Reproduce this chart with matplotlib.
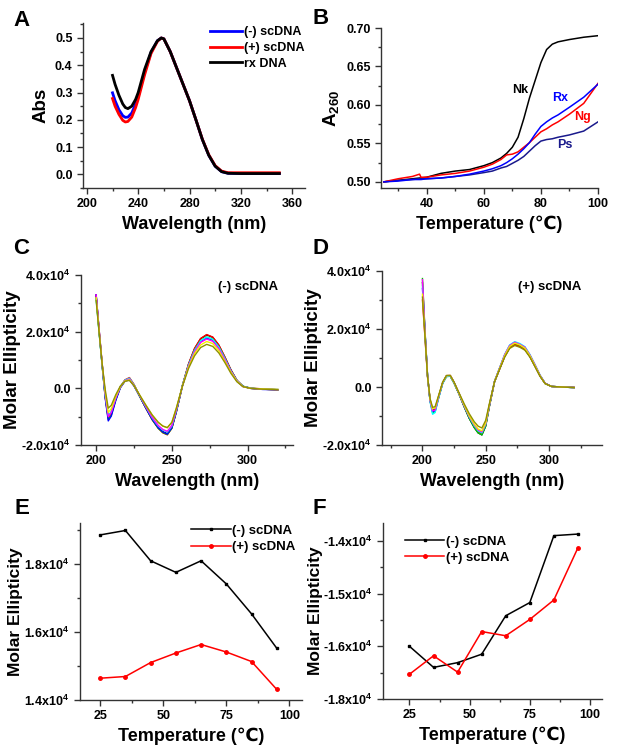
import matplotlib
matplotlib.use("Agg")
import matplotlib.pyplot as plt
from matplotlib.ticker import MultipleLocator, FixedLocator

plt.rcParams['font.family'] = ['Liberation Sans', 'DejaVu Sans']
plt.rcParams['font.weight'] = 'bold'
plt.rcParams['mathtext.fontset'] = 'custom'
plt.rcParams['mathtext.rm'] = 'Liberation Sans:bold'
plt.rcParams['mathtext.it'] = 'Liberation Sans:bold'
plt.rcParams['mathtext.bf'] = 'Liberation Sans:bold'

# ---- panel A: UV absorbance ----
abs_wl = [220, 222, 225, 228, 230, 232, 235, 238, 240, 245, 250, 255, 258, 260,
          265, 270, 275, 280, 285, 290, 295, 300, 305, 310, 320, 330, 340, 350]
abs_neg = [0.299, 0.27, 0.237, 0.215, 0.209, 0.21, 0.225, 0.258, 0.285, 0.375, 0.447, 0.49, 0.50, 0.497,
           0.45, 0.39, 0.33, 0.27, 0.20, 0.128, 0.07, 0.03, 0.01, 0.004, 0.003, 0.003, 0.003, 0.003]
abs_pos = [0.278, 0.25, 0.22, 0.198, 0.192, 0.194, 0.21, 0.245, 0.275, 0.365, 0.443, 0.488, 0.50, 0.497,
           0.45, 0.39, 0.33, 0.27, 0.20, 0.129, 0.072, 0.032, 0.012, 0.006, 0.006, 0.006, 0.006, 0.006]
abs_rx = [0.363, 0.33, 0.29, 0.258, 0.245, 0.241, 0.25, 0.275, 0.30, 0.385, 0.45, 0.49, 0.50, 0.497,
          0.45, 0.39, 0.33, 0.27, 0.20, 0.128, 0.07, 0.03, 0.01, 0.004, 0.003, 0.003, 0.003, 0.003]

# ---- panel B: melting curves ----
melt_t = [25, 30, 35, 37.5, 38, 40, 45, 50, 55, 60, 63, 66, 68, 70, 72, 74, 76, 78, 80, 82, 84, 86, 90, 95, 100]
melt_nk = [0.500, 0.502, 0.504, 0.505, 0.505, 0.506, 0.511, 0.514, 0.516, 0.521, 0.525, 0.531, 0.537, 0.545,
           0.558, 0.582, 0.609, 0.632, 0.655, 0.672, 0.679, 0.682, 0.685, 0.688, 0.690]
melt_rx = [0.500, 0.501, 0.503, 0.503, 0.503, 0.504, 0.505, 0.507, 0.510, 0.514, 0.517, 0.521, 0.525, 0.530,
           0.536, 0.543, 0.551, 0.562, 0.572, 0.578, 0.583, 0.587, 0.597, 0.610, 0.627]
melt_ng = [0.500, 0.504, 0.507, 0.510, 0.506, 0.506, 0.509, 0.511, 0.514, 0.519, 0.523, 0.529, 0.535, 0.536,
           0.539, 0.545, 0.551, 0.558, 0.565, 0.569, 0.574, 0.578, 0.588, 0.602, 0.628]
melt_ps = [0.500, 0.502, 0.503, 0.504, 0.504, 0.504, 0.505, 0.507, 0.509, 0.512, 0.514, 0.518, 0.520, 0.524,
           0.528, 0.533, 0.540, 0.547, 0.553, 0.555, 0.556, 0.558, 0.561, 0.566, 0.578]

# ---- panels C/D: CD spectra (units of 1e4) ----
cd_wl = [200, 202, 204, 206, 208, 210, 213, 216, 219, 222, 225, 229, 233, 237, 241, 244, 247,
         250, 253, 257, 261, 265, 269, 273, 277, 281, 285, 289, 293, 297, 302, 310, 320]
cd_temps = [25, 35, 45, 55, 65, 75, 85, 95]
cd_colors = ['black', 'red', '#00c800', 'blue', 'cyan', 'magenta', '#f0f000', '#909000']
cd_minus = [
    [3.30, 2.05, 0.85, -0.25, -1.00, -0.85, -0.35, 0.05, 0.28, 0.35, 0.12, -0.30, -0.70, -1.08, -1.38, -1.53, -1.600,
     -1.38, -0.80, 0.10, 0.85, 1.40, 1.75, 1.885, 1.80, 1.52, 1.10, 0.65, 0.28, 0.07, 0.00, -0.03, -0.05],
    [3.25, 2.00, 0.80, -0.30, -1.05, -0.90, -0.38, 0.05, 0.30, 0.38, 0.14, -0.31, -0.72, -1.11, -1.41, -1.57, -1.640,
     -1.41, -0.82, 0.10, 0.86, 1.41, 1.76, 1.898, 1.81, 1.53, 1.11, 0.65, 0.28, 0.07, 0.01, -0.02, -0.04],
    [3.20, 1.95, 0.78, -0.32, -1.10, -0.95, -0.40, 0.03, 0.26, 0.32, 0.10, -0.31, -0.71, -1.10, -1.41, -1.56, -1.630,
     -1.41, -0.82, 0.10, 0.82, 1.34, 1.68, 1.809, 1.73, 1.46, 1.06, 0.62, 0.27, 0.07, 0.00, -0.03, -0.05],
    [3.30, 2.00, 0.80, -0.35, -1.15, -0.98, -0.42, 0.02, 0.25, 0.30, 0.08, -0.30, -0.71, -1.09, -1.39, -1.54, -1.615,
     -1.39, -0.81, 0.09, 0.80, 1.32, 1.65, 1.775, 1.70, 1.43, 1.04, 0.61, 0.26, 0.07, 0.00, -0.04, -0.05],
    [3.15, 1.95, 0.80, -0.25, -0.95, -0.82, -0.33, 0.06, 0.29, 0.36, 0.13, -0.29, -0.67, -1.04, -1.33, -1.47, -1.542,
     -1.33, -0.77, 0.10, 0.82, 1.34, 1.68, 1.809, 1.73, 1.46, 1.06, 0.62, 0.27, 0.07, 0.01, -0.03, -0.04],
    [3.30, 2.05, 0.85, -0.22, -1.00, -0.85, -0.34, 0.05, 0.27, 0.33, 0.11, -0.28, -0.66, -1.02, -1.31, -1.45, -1.517,
     -1.31, -0.76, 0.09, 0.79, 1.29, 1.62, 1.741, 1.66, 1.40, 1.02, 0.60, 0.26, 0.06, 0.00, -0.03, -0.05],
    [3.20, 2.00, 0.85, -0.15, -0.85, -0.72, -0.28, 0.06, 0.26, 0.30, 0.10, -0.26, -0.61, -0.94, -1.20, -1.33, -1.390,
     -1.20, -0.70, 0.09, 0.75, 1.23, 1.53, 1.653, 1.58, 1.33, 0.96, 0.57, 0.25, 0.06, 0.00, -0.02, -0.04],
    [3.10, 1.95, 0.85, -0.05, -0.70, -0.60, -0.22, 0.08, 0.25, 0.28, 0.10, -0.26, -0.61, -0.94, -1.20, -1.33, -1.387,
     -1.20, -0.69, 0.08, 0.70, 1.15, 1.44, 1.552, 1.48, 1.25, 0.91, 0.53, 0.23, 0.06, 0.00, -0.03, -0.05],
]
cd_plus = [
    [3.60, 1.90, 0.40, -0.45, -0.80, -0.78, -0.30, 0.15, 0.38, 0.38, 0.15, -0.25, -0.68, -1.08, -1.40, -1.58, -1.653,
     -1.35, -0.65, 0.18, 0.62, 1.05, 1.36, 1.464, 1.40, 1.30, 1.05, 0.72, 0.38, 0.12, 0.02, 0.00, -0.02],
    [3.00, 1.70, 0.35, -0.45, -0.82, -0.80, -0.32, 0.14, 0.37, 0.38, 0.14, -0.24, -0.67, -1.06, -1.37, -1.55, -1.618,
     -1.32, -0.64, 0.18, 0.62, 1.05, 1.36, 1.469, 1.40, 1.30, 1.05, 0.72, 0.38, 0.12, 0.02, 0.00, -0.01],
    [3.74, 1.95, 0.42, -0.48, -0.88, -0.85, -0.34, 0.13, 0.36, 0.37, 0.13, -0.25, -0.68, -1.08, -1.40, -1.58, -1.649,
     -1.35, -0.65, 0.19, 0.64, 1.08, 1.40, 1.510, 1.44, 1.34, 1.08, 0.74, 0.39, 0.12, 0.02, 0.00, -0.02],
    [3.40, 1.85, 0.38, -0.47, -0.85, -0.82, -0.32, 0.14, 0.38, 0.39, 0.15, -0.24, -0.65, -1.03, -1.33, -1.50, -1.572,
     -1.28, -0.62, 0.19, 0.65, 1.10, 1.43, 1.538, 1.47, 1.37, 1.10, 0.76, 0.40, 0.13, 0.02, 0.00, -0.02],
    [3.50, 1.88, 0.40, -0.50, -0.94, -0.88, -0.35, 0.12, 0.36, 0.38, 0.14, -0.24, -0.65, -1.03, -1.34, -1.51, -1.580,
     -1.29, -0.62, 0.19, 0.66, 1.12, 1.45, 1.563, 1.50, 1.39, 1.12, 0.77, 0.41, 0.13, 0.02, 0.00, -0.02],
    [3.70, 1.92, 0.41, -0.46, -0.82, -0.80, -0.31, 0.15, 0.39, 0.40, 0.16, -0.23, -0.64, -1.01, -1.31, -1.48, -1.549,
     -1.26, -0.61, 0.19, 0.65, 1.11, 1.43, 1.541, 1.47, 1.37, 1.10, 0.76, 0.40, 0.13, 0.02, 0.00, -0.02],
    [3.20, 1.80, 0.37, -0.42, -0.75, -0.72, -0.28, 0.16, 0.39, 0.40, 0.16, -0.23, -0.62, -0.99, -1.28, -1.45, -1.512,
     -1.24, -0.59, 0.19, 0.64, 1.08, 1.40, 1.513, 1.45, 1.34, 1.08, 0.74, 0.39, 0.12, 0.02, 0.00, -0.02],
    [3.10, 1.75, 0.38, -0.40, -0.70, -0.68, -0.26, 0.17, 0.40, 0.40, 0.17, -0.21, -0.58, -0.92, -1.20, -1.35, -1.413,
     -1.15, -0.56, 0.18, 0.61, 1.03, 1.33, 1.431, 1.37, 1.27, 1.03, 0.70, 0.37, 0.12, 0.02, 0.00, -0.02],
]

# ---- panels E/F: peak / trough ellipticity vs temperature (units of 1e4) ----
temps = [25, 35, 45, 55, 65, 75, 85, 95]
peak_neg = [1.885, 1.898, 1.809, 1.775, 1.809, 1.741, 1.653, 1.552]
peak_pos = [1.464, 1.469, 1.510, 1.538, 1.563, 1.541, 1.513, 1.431]
trough_neg = [-1.600, -1.640, -1.631, -1.615, -1.542, -1.517, -1.390, -1.387]
trough_pos = [-1.653, -1.618, -1.649, -1.572, -1.580, -1.549, -1.512, -1.413]

W, H = 619, 752
fig = plt.figure(figsize=(W / 100, H / 100), dpi=100)


def place(l, t, r, b):
    return fig.add_axes([l / W, 1 - b / H, (r - l) / W, (b - t) / H])


def style(ax):
    for s in ['top', 'right']:
        ax.spines[s].set_visible(False)
    for s in ['left', 'bottom']:
        ax.spines[s].set_color('#333333')
        ax.spines[s].set_linewidth(1.0)
    ax.tick_params(which='both', direction='out', color='#333333', width=1.0, labelsize=9)
    ax.tick_params(which='major', length=4)
    ax.tick_params(which='minor', length=2.5)
    for lab in ax.get_xticklabels() + ax.get_yticklabels():
        lab.set_fontweight('bold')


def e4(v):
    return f'{v:.1f}x10$^4$'


# A
axA = place(83, 23, 305, 188)
axA.plot(abs_wl, abs_neg, color='blue', lw=2, label='(-) scDNA')
axA.plot(abs_wl, abs_pos, color='red', lw=2, label='(+) scDNA')
axA.plot(abs_wl, abs_rx, color='black', lw=2, label='rx DNA')
axA.set_xlim(197, 370)
axA.set_ylim(-0.05, 0.555)
axA.xaxis.set_major_locator(MultipleLocator(40))
axA.xaxis.set_minor_locator(MultipleLocator(20))
axA.yaxis.set_major_locator(MultipleLocator(0.1))
axA.yaxis.set_minor_locator(MultipleLocator(0.05))
axA.set_xlabel('Wavelength (nm)', fontsize=13, fontweight='bold')
axA.set_ylabel('Abs', fontsize=13.5, fontweight='bold')
axA.legend(loc='upper right', bbox_to_anchor=(1.0, 0.98), frameon=False, fontsize=9,
           handlelength=2.6, handletextpad=0.2, labelspacing=0.3, borderpad=0, borderaxespad=0)
style(axA)

# B
axB = place(381, 28, 598, 188)
axB.plot(melt_t, melt_nk, color='black', lw=1.1)
axB.plot(melt_t, melt_ps, color='#1a1a8c', lw=1.1)
axB.plot(melt_t, melt_ng, color='red', lw=1.1)
axB.plot(melt_t, melt_rx, color='blue', lw=1.1)
axB.set_xlim(24, 100)
axB.set_ylim(0.492, 0.70)
axB.xaxis.set_major_locator(MultipleLocator(20))
axB.xaxis.set_minor_locator(MultipleLocator(10))
axB.yaxis.set_major_locator(MultipleLocator(0.05))
axB.yaxis.set_minor_locator(MultipleLocator(0.025))
axB.yaxis.set_major_formatter(plt.FuncFormatter(lambda v, p: f'{v:.2f}'))
axB.text(72.7, 0.619, 'Nk', color='black', fontsize=9, fontweight='bold', ha='center', va='center')
axB.text(86.7, 0.609, 'Rx', color='blue', fontsize=9, fontweight='bold', ha='center', va='center')
axB.text(94.4, 0.584, 'Ng', color='red', fontsize=9, fontweight='bold', ha='center', va='center')
axB.text(88.5, 0.548, 'Ps', color='#1a1a8c', fontsize=9, fontweight='bold', ha='center', va='center')
axB.set_xlabel('Temperature (\u2103)', fontsize=13, fontweight='bold')
axB.set_ylabel('A$_{260}$', fontsize=13.5, fontweight='bold')
style(axB)


def cd_panel(ax, data, title, xlim, tx, ty):
    for row, col in zip(data, cd_colors):
        ax.plot(cd_wl, [v * 1e4 for v in row], color=col, lw=1.0)
    ax.set_xlim(*xlim)
    ax.set_ylim(-2e4, 4e4)
    ax.xaxis.set_major_locator(MultipleLocator(50))
    ax.xaxis.set_minor_locator(MultipleLocator(25))
    ax.yaxis.set_major_locator(FixedLocator([-2e4, 0, 2e4, 4e4]))
    ax.yaxis.set_minor_locator(MultipleLocator(1e4))
    ax.set_yticklabels(['-2.0x10$^4$', '0.0', '2.0x10$^4$', '4.0x10$^4$'])
    ax.text(tx, ty, title, transform=ax.transAxes, fontsize=9.5, fontweight='bold', ha='center', va='center')
    ax.set_xlabel('Wavelength (nm)', fontsize=13, fontweight='bold')
    ax.set_ylabel('Molar Ellipticity', fontsize=13.5, fontweight='bold', labelpad=0)
    style(ax)


axC = place(81, 275, 293, 445)
cd_panel(axC, cd_minus, '(-) scDNA', (190, 330), 0.788, 0.929)
axD = place(382, 271, 602, 445)
cd_panel(axD, cd_plus, '(+) scDNA', (168, 342), 0.764, 0.908)

# E
axE = place(80, 523, 302, 700)
axE.plot(temps, [v * 1e4 for v in peak_neg], color='black', lw=1.1, marker='s', ms=2, label='(-) scDNA')
axE.plot(temps, [v * 1e4 for v in peak_pos], color='red', lw=1.1, marker='o', ms=2.5, label='(+) scDNA')
axE.set_xlim(17, 105)
axE.set_ylim(1.4e4, 1.92e4)
axE.xaxis.set_major_locator(MultipleLocator(25))
axE.xaxis.set_minor_locator(MultipleLocator(12.5))
axE.yaxis.set_major_locator(FixedLocator([1.4e4, 1.6e4, 1.8e4]))
axE.yaxis.set_minor_locator(MultipleLocator(0.1e4))
axE.set_yticklabels([e4(1.4), e4(1.6), e4(1.8)])
axE.legend(loc='upper right', bbox_to_anchor=(0.97, 0.99), frameon=False, fontsize=9.5, numpoints=1,
           handlelength=3, handletextpad=0.1, labelspacing=0.3, borderpad=0, borderaxespad=0)
axE.set_xlabel('Temperature (\u2103)', fontsize=13, fontweight='bold')
axE.set_ylabel('Molar Ellipticity', fontsize=12.5, fontweight='bold', labelpad=1)
style(axE)

# F
axF = place(383, 523, 602, 699)
axF.plot(temps, [v * 1e4 for v in trough_neg], color='black', lw=1.1, marker='s', ms=2, label='(-) scDNA')
axF.plot(temps, [v * 1e4 for v in trough_pos], color='red', lw=1.1, marker='o', ms=2.5, label='(+) scDNA')
axF.set_xlim(14, 105)
axF.set_ylim(-1.7e4, -1.366e4)
axF.xaxis.set_major_locator(MultipleLocator(25))
axF.xaxis.set_minor_locator(MultipleLocator(12.5))
axF.yaxis.set_major_locator(FixedLocator([-1.7e4, -1.6e4, -1.5e4, -1.4e4]))
axF.yaxis.set_minor_locator(MultipleLocator(0.05e4))
axF.set_yticklabels(['-1.8x10$^4$', '-1.6x10$^4$', '-1.5x10$^4$', '-1.4x10$^4$'])
axF.legend(loc='upper left', bbox_to_anchor=(0.10, 0.93), frameon=False, fontsize=9.5, numpoints=1,
           handlelength=3, handletextpad=0.1, labelspacing=0.3, borderpad=0, borderaxespad=0)
axF.set_xlabel('Temperature (\u2103)', fontsize=13, fontweight='bold')
axF.set_ylabel('Molar Ellipticity', fontsize=12.5, fontweight='bold', labelpad=0)
style(axF)

# panel letters
for letter, x, y in [('A', 13, 10), ('B', 312, 8), ('C', 13, 238), ('D', 312, 238), ('E', 15, 498), ('F', 312, 498)]:
    fig.text(x / W, 1 - y / H, letter, fontsize=16, fontweight='bold', ha='left', va='top')

fig.savefig('out.png', dpi=100)
